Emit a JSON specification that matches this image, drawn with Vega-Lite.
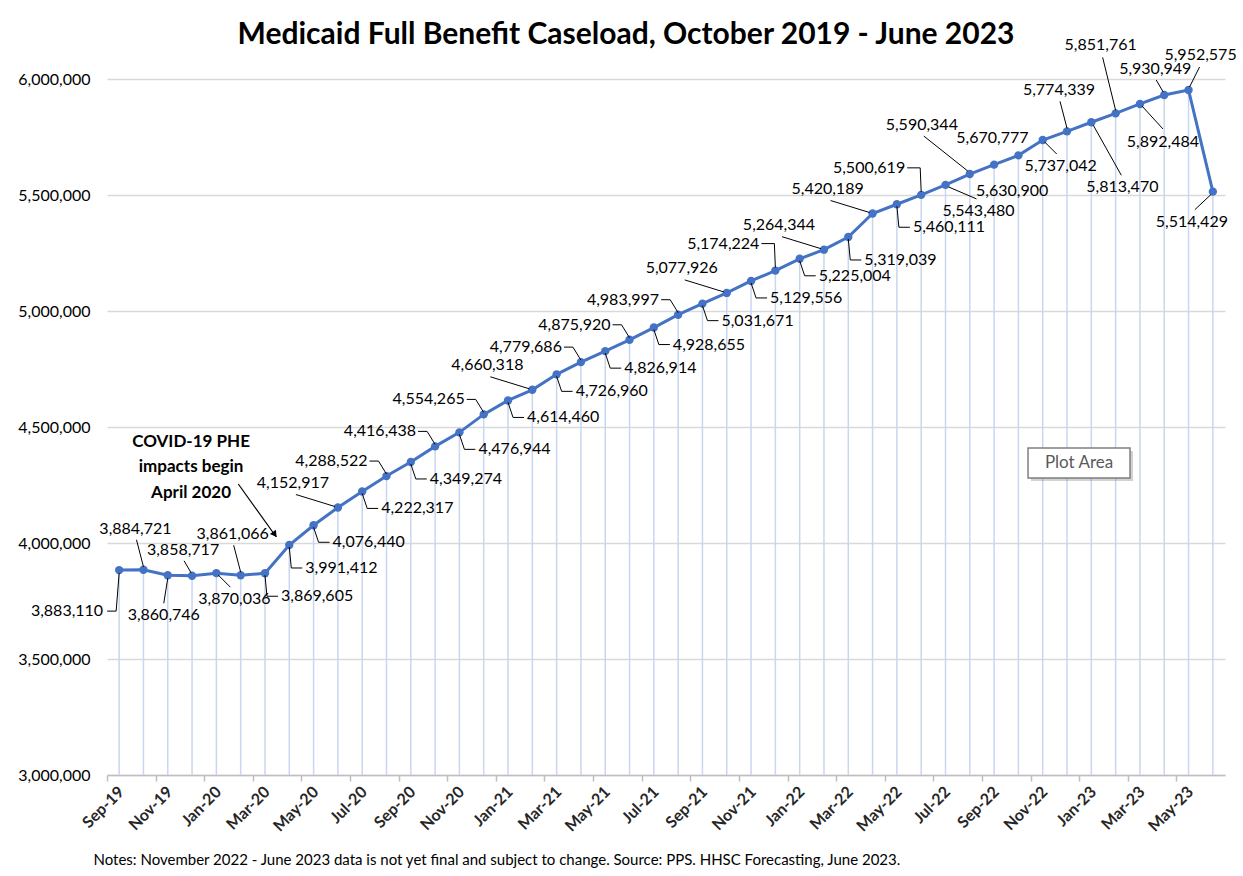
{
  "$schema": "https://vega.github.io/schema/vega-lite/v6.json",
  "width": 1118,
  "height": 696,
  "autosize": {"type": "none"},
  "padding": {"left": 107, "top": 79, "right": 18, "bottom": 101},
  "background": "white",
  "config": {"view": {"stroke": null}, "font": "Lato", "numberFormat": ","},
  "title": {"text": "Medicaid Full Benefit Caseload, October 2019 - June 2023", "font": "Lato", "fontSize": 30, "fontWeight": "bold", "color": "#000000", "anchor": "middle", "frame": "group", "dx": -40, "offset": -37, "baseline": "alphabetic"},
  "data": {"values": [
    {"date": "2019-09-15", "v": 3883110},
    {"date": "2019-10-15", "v": 3884721},
    {"date": "2019-11-15", "v": 3860746},
    {"date": "2019-12-15", "v": 3858717},
    {"date": "2020-01-15", "v": 3870036},
    {"date": "2020-02-15", "v": 3861066},
    {"date": "2020-03-15", "v": 3869605},
    {"date": "2020-04-15", "v": 3991412},
    {"date": "2020-05-15", "v": 4076440},
    {"date": "2020-06-15", "v": 4152917},
    {"date": "2020-07-15", "v": 4222317},
    {"date": "2020-08-15", "v": 4288522},
    {"date": "2020-09-15", "v": 4349274},
    {"date": "2020-10-15", "v": 4416438},
    {"date": "2020-11-15", "v": 4476944},
    {"date": "2020-12-15", "v": 4554265},
    {"date": "2021-01-15", "v": 4614460},
    {"date": "2021-02-15", "v": 4660318},
    {"date": "2021-03-15", "v": 4726960},
    {"date": "2021-04-15", "v": 4779686},
    {"date": "2021-05-15", "v": 4826914},
    {"date": "2021-06-15", "v": 4875920},
    {"date": "2021-07-15", "v": 4928655},
    {"date": "2021-08-15", "v": 4983997},
    {"date": "2021-09-15", "v": 5031671},
    {"date": "2021-10-15", "v": 5077926},
    {"date": "2021-11-15", "v": 5129556},
    {"date": "2021-12-15", "v": 5174224},
    {"date": "2022-01-15", "v": 5225004},
    {"date": "2022-02-15", "v": 5264344},
    {"date": "2022-03-15", "v": 5319039},
    {"date": "2022-04-15", "v": 5420189},
    {"date": "2022-05-15", "v": 5460111},
    {"date": "2022-06-15", "v": 5500619},
    {"date": "2022-07-15", "v": 5543480},
    {"date": "2022-08-15", "v": 5590344},
    {"date": "2022-09-15", "v": 5630900},
    {"date": "2022-10-15", "v": 5670777},
    {"date": "2022-11-15", "v": 5737042},
    {"date": "2022-12-15", "v": 5774339},
    {"date": "2023-01-15", "v": 5813470},
    {"date": "2023-02-15", "v": 5851761},
    {"date": "2023-03-15", "v": 5892484},
    {"date": "2023-04-15", "v": 5930949},
    {"date": "2023-05-15", "v": 5952575},
    {"date": "2023-06-15", "v": 5514429}
  ]},
  "transform": [{"window": [{"op": "row_number", "as": "i"}]}],
  "layer": [
    {
      "mark": {"type": "rule", "color": "#c9d6f0", "strokeWidth": 1.5},
      "encoding": {
        "x": {"field": "date", "timeUnit": "utcyearmonth", "type": "ordinal",
          "scale": {"type": "point", "padding": 0.5},
          "axis": {
            "title": "Notes: November 2022 - June 2023 data is not yet final and subject to change. Source: PPS. HHSC Forecasting, June 2023.",
            "titleFont": "Lato", "titleFontSize": 15, "titleFontWeight": "normal", "titleColor": "#000000",
            "titleAnchor": "start", "titleAlign": "left", "titleX": -14, "titleY": 89, "titleBaseline": "alphabetic",
            "values": [
              {"year": 2019, "month": 9, "date": 1, "utc": true},
              {"year": 2019, "month": 11, "date": 1, "utc": true},
              {"year": 2020, "month": 1, "date": 1, "utc": true},
              {"year": 2020, "month": 3, "date": 1, "utc": true},
              {"year": 2020, "month": 5, "date": 1, "utc": true},
              {"year": 2020, "month": 7, "date": 1, "utc": true},
              {"year": 2020, "month": 9, "date": 1, "utc": true},
              {"year": 2020, "month": 11, "date": 1, "utc": true},
              {"year": 2021, "month": 1, "date": 1, "utc": true},
              {"year": 2021, "month": 3, "date": 1, "utc": true},
              {"year": 2021, "month": 5, "date": 1, "utc": true},
              {"year": 2021, "month": 7, "date": 1, "utc": true},
              {"year": 2021, "month": 9, "date": 1, "utc": true},
              {"year": 2021, "month": 11, "date": 1, "utc": true},
              {"year": 2022, "month": 1, "date": 1, "utc": true},
              {"year": 2022, "month": 3, "date": 1, "utc": true},
              {"year": 2022, "month": 5, "date": 1, "utc": true},
              {"year": 2022, "month": 7, "date": 1, "utc": true},
              {"year": 2022, "month": 9, "date": 1, "utc": true},
              {"year": 2022, "month": 11, "date": 1, "utc": true},
              {"year": 2023, "month": 1, "date": 1, "utc": true},
              {"year": 2023, "month": 3, "date": 1, "utc": true},
              {"year": 2023, "month": 5, "date": 1, "utc": true}
            ],
            "format": "%b-%y", "labelOverlap": false,
            "labelAngle": -45, "labelAlign": "right", "labelBaseline": "middle",
            "labelFont": "Lato", "labelFontSize": 16, "labelFontWeight": "bold", "labelColor": "#262626",
            "labelPadding": 8, "tickOffset": -12.15, "labelOffset": 14,
            "tickSize": 6, "tickColor": "#bfbfbf", "domainColor": "#bfbfbf", "domainWidth": 1.5, "tickWidth": 1.5,
            "grid": false
          }
        },
        "y": {"field": "v", "type": "quantitative",
          "scale": {"domain": [3000000, 6000000], "nice": false, "zero": false},
          "axis": {"title": null, "values": [3000000, 3500000, 4000000, 4500000, 5000000, 5500000, 6000000],
            "format": ",", "labelExpr": "format(datum.value, ',')", "labelFont": "Lato", "labelFontSize": 16, "labelColor": "#000000", "labelPadding": 17,
            "domain": false, "ticks": false, "grid": true, "gridColor": "#d9d9d9", "gridWidth": 1.5}
        },
        "y2": {"datum": 3000000}
      }
    },
    {
      "mark": {"type": "line", "color": "#4472c4", "strokeWidth": 3},
      "encoding": {"x": {"field": "date", "timeUnit": "utcyearmonth", "type": "ordinal"}, "y": {"field": "v", "type": "quantitative"}}
    },
    {
      "mark": {"type": "point", "filled": true, "color": "#4472c4", "size": 70, "opacity": 1},
      "encoding": {"x": {"field": "date", "timeUnit": "utcyearmonth", "type": "ordinal"}, "y": {"field": "v", "type": "quantitative"}}
    },

    {"transform": [{"filter": "indexof([12,14,16,20,22,24], datum.i) >= 0"}],
     "mark": {"type": "text", "align": "right", "baseline": "middle", "dx": -19, "dy": -15, "fontSize": 16, "color": "#000000"},
     "encoding": {"x": {"field": "date", "timeUnit": "utcyearmonth", "type": "ordinal"}, "y": {"field": "v", "type": "quantitative"}, "text": {"field": "v", "type": "quantitative", "format": ","}}},
    {"transform": [{"filter": "indexof([12,14,16,20,22,24], datum.i) >= 0"}],
     "mark": {"type": "rule", "color": "#000000", "strokeWidth": 1, "xOffset": -8, "yOffset": -15, "x2Offset": 0, "y2Offset": -2},
     "encoding": {"x": {"field": "date", "timeUnit": "utcyearmonth", "type": "ordinal"}, "y": {"field": "v", "type": "quantitative"}, "x2": {"field": "date", "timeUnit": "utcyearmonth"}, "y2": {"field": "v"}}},
    {"transform": [{"filter": "indexof([12,14,16,20,22,24], datum.i) >= 0"}],
     "mark": {"type": "rule", "color": "#000000", "strokeWidth": 1, "xOffset": -17, "yOffset": -15, "x2Offset": -8, "y2Offset": -15},
     "encoding": {"x": {"field": "date", "timeUnit": "utcyearmonth", "type": "ordinal"}, "y": {"field": "v", "type": "quantitative"}, "x2": {"field": "date", "timeUnit": "utcyearmonth"}, "y2": {"field": "v"}}},

    {"transform": [{"filter": "indexof([28,34], datum.i) >= 0"}],
     "mark": {"type": "text", "align": "right", "baseline": "middle", "dx": -16, "dy": -27, "fontSize": 16, "color": "#000000"},
     "encoding": {"x": {"field": "date", "timeUnit": "utcyearmonth", "type": "ordinal"}, "y": {"field": "v", "type": "quantitative"}, "text": {"field": "v", "type": "quantitative", "format": ","}}},
    {"transform": [{"filter": "indexof([28,34], datum.i) >= 0"}],
     "mark": {"type": "rule", "color": "#000000", "strokeWidth": 1, "xOffset": -1, "yOffset": -27, "x2Offset": 0, "y2Offset": -3},
     "encoding": {"x": {"field": "date", "timeUnit": "utcyearmonth", "type": "ordinal"}, "y": {"field": "v", "type": "quantitative"}, "x2": {"field": "date", "timeUnit": "utcyearmonth"}, "y2": {"field": "v"}}},
    {"transform": [{"filter": "indexof([28,34], datum.i) >= 0"}],
     "mark": {"type": "rule", "color": "#000000", "strokeWidth": 1, "xOffset": -14, "yOffset": -27, "x2Offset": -1, "y2Offset": -27},
     "encoding": {"x": {"field": "date", "timeUnit": "utcyearmonth", "type": "ordinal"}, "y": {"field": "v", "type": "quantitative"}, "x2": {"field": "date", "timeUnit": "utcyearmonth"}, "y2": {"field": "v"}}},

    {"transform": [{"filter": "indexof([9,11,13,15,17,19,21,23,25,27,29], datum.i) >= 0"}],
     "mark": {"type": "text", "align": "left", "baseline": "middle", "dx": 19, "dy": 17, "fontSize": 16, "color": "#000000"},
     "encoding": {"x": {"field": "date", "timeUnit": "utcyearmonth", "type": "ordinal"}, "y": {"field": "v", "type": "quantitative"}, "text": {"field": "v", "type": "quantitative", "format": ","}}},
    {"transform": [{"filter": "indexof([9,11,13,15,17,19,21,23,25,27,29], datum.i) >= 0"}],
     "mark": {"type": "rule", "color": "#000000", "strokeWidth": 1, "xOffset": 0, "yOffset": 2, "x2Offset": 5, "y2Offset": 17},
     "encoding": {"x": {"field": "date", "timeUnit": "utcyearmonth", "type": "ordinal"}, "y": {"field": "v", "type": "quantitative"}, "x2": {"field": "date", "timeUnit": "utcyearmonth"}, "y2": {"field": "v"}}},
    {"transform": [{"filter": "indexof([9,11,13,15,17,19,21,23,25,27,29], datum.i) >= 0"}],
     "mark": {"type": "rule", "color": "#000000", "strokeWidth": 1, "xOffset": 5, "yOffset": 17, "x2Offset": 16, "y2Offset": 17},
     "encoding": {"x": {"field": "date", "timeUnit": "utcyearmonth", "type": "ordinal"}, "y": {"field": "v", "type": "quantitative"}, "x2": {"field": "date", "timeUnit": "utcyearmonth"}, "y2": {"field": "v"}}},

    {"transform": [{"filter": "indexof([7,8,31,33], datum.i) >= 0"}],
     "mark": {"type": "text", "align": "left", "baseline": "middle", "dx": 16, "dy": 23, "fontSize": 16, "color": "#000000"},
     "encoding": {"x": {"field": "date", "timeUnit": "utcyearmonth", "type": "ordinal"}, "y": {"field": "v", "type": "quantitative"}, "text": {"field": "v", "type": "quantitative", "format": ","}}},
    {"transform": [{"filter": "indexof([7,8,31,33], datum.i) >= 0"}],
     "mark": {"type": "rule", "color": "#000000", "strokeWidth": 1, "xOffset": 0, "yOffset": 2, "x2Offset": 2, "y2Offset": 23},
     "encoding": {"x": {"field": "date", "timeUnit": "utcyearmonth", "type": "ordinal"}, "y": {"field": "v", "type": "quantitative"}, "x2": {"field": "date", "timeUnit": "utcyearmonth"}, "y2": {"field": "v"}}},
    {"transform": [{"filter": "indexof([7,8,31,33], datum.i) >= 0"}],
     "mark": {"type": "rule", "color": "#000000", "strokeWidth": 1, "xOffset": 2, "yOffset": 23, "x2Offset": 13, "y2Offset": 23},
     "encoding": {"x": {"field": "date", "timeUnit": "utcyearmonth", "type": "ordinal"}, "y": {"field": "v", "type": "quantitative"}, "x2": {"field": "date", "timeUnit": "utcyearmonth"}, "y2": {"field": "v"}}},

    {"transform": [{"filter": "indexof([10,18,26,30,32], datum.i) >= 0"}],
     "mark": {"type": "text", "align": "center", "baseline": "middle", "dx": -45, "dy": -25, "fontSize": 16, "color": "#000000"},
     "encoding": {"x": {"field": "date", "timeUnit": "utcyearmonth", "type": "ordinal"}, "y": {"field": "v", "type": "quantitative"}, "text": {"field": "v", "type": "quantitative", "format": ","}}},
    {"transform": [{"filter": "indexof([10,18,26,30,32], datum.i) >= 0"}],
     "mark": {"type": "rule", "color": "#000000", "strokeWidth": 1, "xOffset": -42, "yOffset": -13, "x2Offset": -3, "y2Offset": -1},
     "encoding": {"x": {"field": "date", "timeUnit": "utcyearmonth", "type": "ordinal"}, "y": {"field": "v", "type": "quantitative"}, "x2": {"field": "date", "timeUnit": "utcyearmonth"}, "y2": {"field": "v"}}},

    {"transform": [{"filter": "datum.i == 36"}],
     "mark": {"type": "text", "align": "center", "baseline": "middle", "dx": -48, "dy": -49, "fontSize": 16, "color": "#000000"},
     "encoding": {"x": {"field": "date", "timeUnit": "utcyearmonth", "type": "ordinal"}, "y": {"field": "v", "type": "quantitative"}, "text": {"field": "v", "type": "quantitative", "format": ","}}},
    {"transform": [{"filter": "datum.i == 36"}],
     "mark": {"type": "rule", "color": "#000000", "strokeWidth": 1, "xOffset": -46, "yOffset": -38, "x2Offset": -2, "y2Offset": -3},
     "encoding": {"x": {"field": "date", "timeUnit": "utcyearmonth", "type": "ordinal"}, "y": {"field": "v", "type": "quantitative"}, "x2": {"field": "date", "timeUnit": "utcyearmonth"}, "y2": {"field": "v"}}},

    {"transform": [{"filter": "datum.i == 3"}],
     "mark": {"type": "text", "align": "center", "baseline": "middle", "dx": -4, "dy": 40, "fontSize": 16, "color": "#000000"},
     "encoding": {"x": {"field": "date", "timeUnit": "utcyearmonth", "type": "ordinal"}, "y": {"field": "v", "type": "quantitative"}, "text": {"field": "v", "type": "quantitative", "format": ","}}},
    {"transform": [{"filter": "datum.i == 3"}],
     "mark": {"type": "rule", "color": "#000000", "strokeWidth": 1, "xOffset": 0, "yOffset": 3, "x2Offset": -4, "y2Offset": 28},
     "encoding": {"x": {"field": "date", "timeUnit": "utcyearmonth", "type": "ordinal"}, "y": {"field": "v", "type": "quantitative"}, "x2": {"field": "date", "timeUnit": "utcyearmonth"}, "y2": {"field": "v"}}},

    {"transform": [{"filter": "indexof([5,37,39], datum.i) >= 0"}],
     "mark": {"type": "text", "align": "center", "baseline": "middle", "dx": 18, "dy": 26, "fontSize": 16, "color": "#000000"},
     "encoding": {"x": {"field": "date", "timeUnit": "utcyearmonth", "type": "ordinal"}, "y": {"field": "v", "type": "quantitative"}, "text": {"field": "v", "type": "quantitative", "format": ","}}},
    {"transform": [{"filter": "indexof([5,39], datum.i) >= 0"}],
     "mark": {"type": "rule", "color": "#000000", "strokeWidth": 1, "xOffset": 2, "yOffset": 2, "x2Offset": 14, "y2Offset": 14},
     "encoding": {"x": {"field": "date", "timeUnit": "utcyearmonth", "type": "ordinal"}, "y": {"field": "v", "type": "quantitative"}, "x2": {"field": "date", "timeUnit": "utcyearmonth"}, "y2": {"field": "v"}}},

    {"transform": [{"filter": "datum.i == 35"}],
     "mark": {"type": "text", "align": "center", "baseline": "middle", "dx": 33, "dy": 26, "fontSize": 16, "color": "#000000"},
     "encoding": {"x": {"field": "date", "timeUnit": "utcyearmonth", "type": "ordinal"}, "y": {"field": "v", "type": "quantitative"}, "text": {"field": "v", "type": "quantitative", "format": ","}}},
    {"transform": [{"filter": "datum.i == 35"}],
     "mark": {"type": "rule", "color": "#000000", "strokeWidth": 1, "xOffset": 3, "yOffset": 2, "x2Offset": 31, "y2Offset": 14},
     "encoding": {"x": {"field": "date", "timeUnit": "utcyearmonth", "type": "ordinal"}, "y": {"field": "v", "type": "quantitative"}, "x2": {"field": "date", "timeUnit": "utcyearmonth"}, "y2": {"field": "v"}}},

    {"transform": [{"filter": "datum.i == 43"}],
     "mark": {"type": "text", "align": "center", "baseline": "middle", "dx": 23, "dy": 38, "fontSize": 16, "color": "#000000"},
     "encoding": {"x": {"field": "date", "timeUnit": "utcyearmonth", "type": "ordinal"}, "y": {"field": "v", "type": "quantitative"}, "text": {"field": "v", "type": "quantitative", "format": ","}}},
    {"transform": [{"filter": "datum.i == 43"}],
     "mark": {"type": "rule", "color": "#000000", "strokeWidth": 1, "xOffset": 2, "yOffset": 2, "x2Offset": 23, "y2Offset": 25},
     "encoding": {"x": {"field": "date", "timeUnit": "utcyearmonth", "type": "ordinal"}, "y": {"field": "v", "type": "quantitative"}, "x2": {"field": "date", "timeUnit": "utcyearmonth"}, "y2": {"field": "v"}}},

    {"transform": [{"filter": "datum.i == 41"}],
     "mark": {"type": "text", "align": "center", "baseline": "middle", "dx": 31, "dy": 65, "fontSize": 16, "color": "#000000"},
     "encoding": {"x": {"field": "date", "timeUnit": "utcyearmonth", "type": "ordinal"}, "y": {"field": "v", "type": "quantitative"}, "text": {"field": "v", "type": "quantitative", "format": ","}}},
    {"transform": [{"filter": "datum.i == 41"}],
     "mark": {"type": "rule", "color": "#000000", "strokeWidth": 1, "xOffset": 2, "yOffset": 3, "x2Offset": 30, "y2Offset": 53},
     "encoding": {"x": {"field": "date", "timeUnit": "utcyearmonth", "type": "ordinal"}, "y": {"field": "v", "type": "quantitative"}, "x2": {"field": "date", "timeUnit": "utcyearmonth"}, "y2": {"field": "v"}}},

    {"transform": [{"filter": "indexof([2,6,40], datum.i) >= 0"}],
     "mark": {"type": "text", "align": "center", "baseline": "middle", "dx": -8, "dy": -41, "fontSize": 16, "color": "#000000"},
     "encoding": {"x": {"field": "date", "timeUnit": "utcyearmonth", "type": "ordinal"}, "y": {"field": "v", "type": "quantitative"}, "text": {"field": "v", "type": "quantitative", "format": ","}}},
    {"transform": [{"filter": "indexof([2,6,40], datum.i) >= 0"}],
     "mark": {"type": "rule", "color": "#000000", "strokeWidth": 1, "xOffset": -7, "yOffset": -30, "x2Offset": 0, "y2Offset": -3},
     "encoding": {"x": {"field": "date", "timeUnit": "utcyearmonth", "type": "ordinal"}, "y": {"field": "v", "type": "quantitative"}, "x2": {"field": "date", "timeUnit": "utcyearmonth"}, "y2": {"field": "v"}}},

    {"transform": [{"filter": "indexof([4,44], datum.i) >= 0"}],
     "mark": {"type": "text", "align": "center", "baseline": "middle", "dx": -9, "dy": -26, "fontSize": 16, "color": "#000000"},
     "encoding": {"x": {"field": "date", "timeUnit": "utcyearmonth", "type": "ordinal"}, "y": {"field": "v", "type": "quantitative"}, "text": {"field": "v", "type": "quantitative", "format": ","}}},
    {"transform": [{"filter": "indexof([4,44], datum.i) >= 0"}],
     "mark": {"type": "rule", "color": "#000000", "strokeWidth": 1, "xOffset": -8, "yOffset": -15, "x2Offset": -1, "y2Offset": -3},
     "encoding": {"x": {"field": "date", "timeUnit": "utcyearmonth", "type": "ordinal"}, "y": {"field": "v", "type": "quantitative"}, "x2": {"field": "date", "timeUnit": "utcyearmonth"}, "y2": {"field": "v"}}},

    {"transform": [{"filter": "datum.i == 38"}],
     "mark": {"type": "text", "align": "center", "baseline": "middle", "dx": -26, "dy": -17, "fontSize": 16, "color": "#000000"},
     "encoding": {"x": {"field": "date", "timeUnit": "utcyearmonth", "type": "ordinal"}, "y": {"field": "v", "type": "quantitative"}, "text": {"field": "v", "type": "quantitative", "format": ","}}},

    {"transform": [{"filter": "datum.i == 42"}],
     "mark": {"type": "text", "align": "center", "baseline": "middle", "dx": -15, "dy": -68, "fontSize": 16, "color": "#000000"},
     "encoding": {"x": {"field": "date", "timeUnit": "utcyearmonth", "type": "ordinal"}, "y": {"field": "v", "type": "quantitative"}, "text": {"field": "v", "type": "quantitative", "format": ","}}},
    {"transform": [{"filter": "datum.i == 42"}],
     "mark": {"type": "rule", "color": "#000000", "strokeWidth": 1, "xOffset": -13, "yOffset": -56, "x2Offset": 0, "y2Offset": -3},
     "encoding": {"x": {"field": "date", "timeUnit": "utcyearmonth", "type": "ordinal"}, "y": {"field": "v", "type": "quantitative"}, "x2": {"field": "date", "timeUnit": "utcyearmonth"}, "y2": {"field": "v"}}},

    {"transform": [{"filter": "datum.i == 45"}],
     "mark": {"type": "text", "align": "center", "baseline": "middle", "dx": 12, "dy": -35, "fontSize": 16, "color": "#000000"},
     "encoding": {"x": {"field": "date", "timeUnit": "utcyearmonth", "type": "ordinal"}, "y": {"field": "v", "type": "quantitative"}, "text": {"field": "v", "type": "quantitative", "format": ","}}},
    {"transform": [{"filter": "datum.i == 45"}],
     "mark": {"type": "rule", "color": "#000000", "strokeWidth": 1, "xOffset": 11, "yOffset": -23, "x2Offset": 1, "y2Offset": -3},
     "encoding": {"x": {"field": "date", "timeUnit": "utcyearmonth", "type": "ordinal"}, "y": {"field": "v", "type": "quantitative"}, "x2": {"field": "date", "timeUnit": "utcyearmonth"}, "y2": {"field": "v"}}},

    {"transform": [{"filter": "datum.i == 1"}],
     "mark": {"type": "text", "align": "right", "baseline": "middle", "dx": -16, "dy": 41, "fontSize": 16, "color": "#000000"},
     "encoding": {"x": {"field": "date", "timeUnit": "utcyearmonth", "type": "ordinal"}, "y": {"field": "v", "type": "quantitative"}, "text": {"field": "v", "type": "quantitative", "format": ","}}},
    {"transform": [{"filter": "datum.i == 1"}],
     "mark": {"type": "rule", "color": "#000000", "strokeWidth": 1, "xOffset": 0, "yOffset": 3, "x2Offset": -3, "y2Offset": 41},
     "encoding": {"x": {"field": "date", "timeUnit": "utcyearmonth", "type": "ordinal"}, "y": {"field": "v", "type": "quantitative"}, "x2": {"field": "date", "timeUnit": "utcyearmonth"}, "y2": {"field": "v"}}},
    {"transform": [{"filter": "datum.i == 1"}],
     "mark": {"type": "rule", "color": "#000000", "strokeWidth": 1, "xOffset": -3, "yOffset": 41, "x2Offset": -12, "y2Offset": 41},
     "encoding": {"x": {"field": "date", "timeUnit": "utcyearmonth", "type": "ordinal"}, "y": {"field": "v", "type": "quantitative"}, "x2": {"field": "date", "timeUnit": "utcyearmonth"}, "y2": {"field": "v"}}},

    {"transform": [{"filter": "datum.i == 46"}],
     "mark": {"type": "text", "align": "center", "baseline": "middle", "dx": -21, "dy": 30, "fontSize": 16, "color": "#000000"},
     "encoding": {"x": {"field": "date", "timeUnit": "utcyearmonth", "type": "ordinal"}, "y": {"field": "v", "type": "quantitative"}, "text": {"field": "v", "type": "quantitative", "format": ","}}},
    {"transform": [{"filter": "datum.i == 46"}],
     "mark": {"type": "rule", "color": "#000000", "strokeWidth": 1, "xOffset": -18, "yOffset": 18, "x2Offset": -2, "y2Offset": 3},
     "encoding": {"x": {"field": "date", "timeUnit": "utcyearmonth", "type": "ordinal"}, "y": {"field": "v", "type": "quantitative"}, "x2": {"field": "date", "timeUnit": "utcyearmonth"}, "y2": {"field": "v"}}},

    {"transform": [{"filter": "datum.i == 4"}],
     "mark": {"type": "text", "align": "center", "baseline": "alphabetic", "dx": -1, "dy": -129, "fontSize": 17, "fontWeight": "bold", "lineHeight": 25.5, "color": "#000000"},
     "encoding": {"x": {"field": "date", "timeUnit": "utcyearmonth", "type": "ordinal"}, "y": {"field": "v", "type": "quantitative"}, "text": {"value": ["COVID-19 PHE", "impacts begin", "April 2020"]}}},
    {"transform": [{"filter": "datum.i == 8"}],
     "mark": {"type": "rule", "color": "#000000", "strokeWidth": 1.2, "xOffset": -51, "yOffset": -61, "x2Offset": -13, "y2Offset": -8},
     "encoding": {"x": {"field": "date", "timeUnit": "utcyearmonth", "type": "ordinal"}, "y": {"field": "v", "type": "quantitative"}, "x2": {"field": "date", "timeUnit": "utcyearmonth"}, "y2": {"field": "v"}}},
    {"transform": [{"filter": "datum.i == 8"}],
     "mark": {"type": "point", "shape": "triangle-up", "filled": true, "color": "#000000", "opacity": 1, "size": 55, "angle": 144, "xOffset": -14.5, "yOffset": -10.5},
     "encoding": {"x": {"field": "date", "timeUnit": "utcyearmonth", "type": "ordinal"}, "y": {"field": "v", "type": "quantitative"}}},

    {"transform": [{"filter": "datum.i == 40"}],
     "mark": {"type": "point", "shape": "M-1,-0.294L1,-0.294L1,0.294L-1,0.294Z", "filled": true, "color": "#7f7f7f", "opacity": 0.35, "size": 10404, "xOffset": 15, "yOffset": 3, "strokeWidth": 0},
     "encoding": {"x": {"field": "date", "timeUnit": "utcyearmonth", "type": "ordinal"}, "y": {"datum": 4345000}}},
    {"transform": [{"filter": "datum.i == 40"}],
     "mark": {"type": "point", "shape": "M-1,-0.294L1,-0.294L1,0.294L-1,0.294Z", "filled": true, "fill": "#ffffff", "stroke": "#7f7f7f", "strokeWidth": 1.5, "opacity": 1, "size": 10404, "xOffset": 12},
     "encoding": {"x": {"field": "date", "timeUnit": "utcyearmonth", "type": "ordinal"}, "y": {"datum": 4345000}}},
    {"transform": [{"filter": "datum.i == 40"}],
     "mark": {"type": "text", "align": "center", "baseline": "middle", "dx": 12, "fontSize": 17, "color": "#595959"},
     "encoding": {"x": {"field": "date", "timeUnit": "utcyearmonth", "type": "ordinal"}, "y": {"datum": 4345000}, "text": {"value": "Plot Area"}}}
  ]
}
